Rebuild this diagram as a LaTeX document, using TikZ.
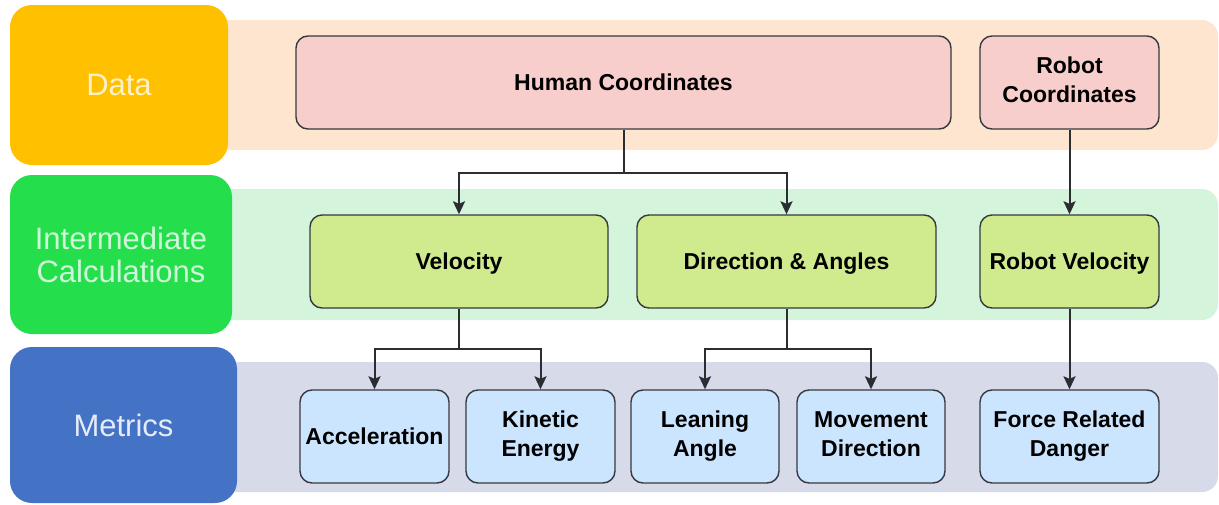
\documentclass[tikz,border=0pt]{standalone}
\usepackage{fontspec}
\setmainfont{Liberation Sans}
\usetikzlibrary{arrows.meta}

\definecolor{dataorange}{RGB}{255,192,0}
\definecolor{databand}{RGB}{253,229,208}
\definecolor{datafill}{RGB}{248,206,204}
\definecolor{calcgreen}{RGB}{36,222,76}
\definecolor{calcband}{RGB}{212,245,220}
\definecolor{calcfill}{RGB}{208,234,142}
\definecolor{metricblue}{RGB}{68,114,196}
\definecolor{metricband}{RGB}{214,218,233}
\definecolor{metricfill}{RGB}{204,229,255}
\definecolor{edgegray}{RGB}{54,57,61}

% 方框文字的支撑线：让单行、双行文字都在框内居中
\newcommand{\boxstrut}{\rule[-5.5pt]{0pt}{27.5pt}}

\begin{document}
\begin{tikzpicture}[x=1pt, y=-1pt,
  lbl/.style={rounded corners=22pt, inner sep=0pt, align=center, font=\fontsize{31}{33}\selectfont},
  box/.style={draw=edgegray, line width=1.4pt, rounded corners=12pt, minimum height=93pt, inner sep=2pt, align=center,
    font=\fontsize{23}{29}\selectfont\bfseries, execute at begin node=\boxstrut, execute at end node=\boxstrut},
  arr/.style={draw=edgegray!80!black, line width=2pt, -{Stealth[length=13pt,width=12pt,inset=2.5pt]}}]

  %% ════ 背景条带 ════
  \fill[databand, rounded corners=16pt] (150,20) rectangle (1218,150);
  \fill[calcband, rounded corners=16pt] (150,189) rectangle (1218,320);
  \fill[metricband, rounded corners=16pt] (150,362) rectangle (1218,492);

  %% ════ 左侧分层标签 ════
  \node[lbl, fill=dataorange, text=dataorange!22!white, minimum width=218pt, minimum height=160pt] (datalbl) at (119,85) {Data};
  \node[lbl, fill=calcgreen, text=calcgreen!22!white, minimum width=222pt, minimum height=159pt] (calclbl) at (121,254.5) {Intermediate\\Calculations};
  \node[lbl, fill=metricblue, text=metricblue!14!white, minimum width=227pt, minimum height=156pt] (metriclbl) at (123.5,425) {Metrics};

  %% ════ 数据层 ════
  \node[box, fill=datafill, minimum width=655pt] (human) at (623.5,82.5) {Human Coordinates};
  \node[box, fill=datafill, minimum width=179pt] (robotc) at (1069.5,82.5) {Robot\\Coordinates};

  %% ════ 中间计算层 ════
  \node[box, fill=calcfill, minimum width=298pt] (vel) at (459,261.5) {Velocity};
  \node[box, fill=calcfill, minimum width=299pt] (dir) at (786.5,261.5) {Direction \& Angles};
  \node[box, fill=calcfill, minimum width=179pt] (robv) at (1069.5,261.5) {Robot Velocity};

  %% ════ 指标层 ════
  \node[box, fill=metricfill, minimum width=149pt] (accel) at (374.5,436.5) {Acceleration};
  \node[box, fill=metricfill, minimum width=149pt] (kin) at (540.5,436.5) {Kinetic\\Energy};
  \node[box, fill=metricfill, minimum width=148pt] (lean) at (705,436.5) {Leaning\\Angle};
  \node[box, fill=metricfill, minimum width=148pt] (move) at (871,436.5) {Movement\\Direction};
  \node[box, fill=metricfill, minimum width=179pt] (force) at (1069.5,436.5) {Force Related\\Danger};

  %% ════ 分叉点 ════
  \coordinate (hsplit) at (623.5,173);
  \coordinate (vsplit) at (459,349);
  \coordinate (dsplit) at (786.5,349);

  %% ════ 连线 ════
  \draw[arr] (human) -- (hsplit) -| (vel);
  \draw[arr] (hsplit) -| (dir);
  \draw[arr] (robotc) -- (robv);
  \draw[arr] (vel) -- (vsplit) -| (accel);
  \draw[arr] (vsplit) -| (kin);
  \draw[arr] (dir) -- (dsplit) -| (lean);
  \draw[arr] (dsplit) -| (move);
  \draw[arr] (robv) -- (force);

  % 固定画布大小
  \pgfresetboundingbox
  \path[use as bounding box] (0,0) rectangle (1219,504);
\end{tikzpicture}
\end{document}
